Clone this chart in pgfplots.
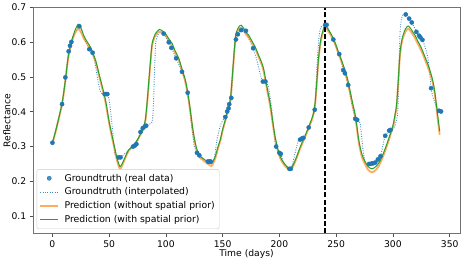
\documentclass[border=0pt]{standalone}
\usepackage{fontspec}
\setmainfont{DejaVu Sans}
\usepackage{pgfplots}
\pgfplotsset{compat=1.18}
\definecolor{cblue}{HTML}{1F77B4}
\definecolor{corange}{HTML}{FF7F0E}
\definecolor{cgreen}{HTML}{2CA02C}
\begin{document}
\begin{tikzpicture}[font=\fontsize{9.2bp}{11bp}\selectfont]
\begin{axis}[
  at={(0,0)}, anchor=south west,
  scale only axis, width=427bp, height=226bp,
  xmin=-17.1, xmax=359.1, ymin=0.05, ymax=0.7,
  xtick={0,50,...,350}, ytick={0.1,0.2,0.3,0.4,0.5,0.6,0.7},
  xtick pos=bottom, ytick pos=left,
  tick align=outside, major tick length=3.2bp,
  axis line style={black!55, line width=0.7bp},
  tick style={black!70, line width=0.7bp},
  /pgf/number format/assume math mode=true,
  yticklabel style={/pgf/number format/.cd, fixed, fixed zerofill, precision=1},
  xlabel={Time (days)}, ylabel={Reflectance},
  xlabel style={at={(axis description cs:0.5,-0.089)}, anchor=center},
  ylabel style={at={(axis description cs:-0.061,0.5)}, anchor=center},
  legend image code/.code={\draw[mark repeat=2,mark phase=2,#1] plot coordinates {(0bp,0bp)(9bp,0bp)(18bp,0bp)};},
  legend style={at={(axis description cs:0.0085,0.02)}, anchor=south west,
    draw=black!20, rounded corners=2bp, fill=white, fill opacity=0.8, text opacity=1,
    inner xsep=2.5bp, inner ysep=2bp, row sep=0bp, column sep=3.5bp,
    nodes={inner ysep=2.65bp, inner xsep=2bp},
    font=\fontsize{9.3bp}{11bp}\selectfont},
  legend cell align=left,
]
\addplot[only marks, mark=*, mark size=2.1bp, color=cblue] coordinates {
(0,0.311)(8.5,0.422)(11.4,0.499)(14.3,0.574)(15.5,0.590)(16.7,0.601)(23.7,0.646)
(32.5,0.580)(35.4,0.570)(46,0.451)(47.2,0.451)(48.4,0.451)(58.3,0.269)(60,0.269)
(71,0.300)(72.7,0.303)(74,0.307)(77.6,0.342)(79.6,0.353)(81.4,0.358)(82.6,0.360)
(98,0.625)(102.5,0.600)(104.8,0.584)(109,0.554)(114.2,0.515)(119.2,0.455)
(127.4,0.282)(129.4,0.275)(137,0.257)(138.2,0.257)(139.4,0.257)
(152.3,0.385)(154,0.401)(155.2,0.410)(155.8,0.422)(157.6,0.440)
(161.7,0.608)(163.4,0.623)(166.3,0.635)(170.5,0.633)(176.8,0.583)
(185.4,0.487)(187.7,0.487)(197.1,0.300)(200,0.282)(201.2,0.279)(208.8,0.236)(210,0.236)
(218.2,0.320)(219.7,0.323)(221.1,0.325)(225.8,0.355)(231.1,0.406)
(240.4,0.650)(241.6,0.650)(247.5,0.608)(252.7,0.566)(256.2,0.520)(257.7,0.511)(260.6,0.477)
(266.8,0.380)(268.5,0.377)(279,0.250)(281,0.251)(282.6,0.252)(284.4,0.254)(286.7,0.263)(289,0.272)
(293.2,0.331)(296.7,0.346)(297.9,0.348)(311.3,0.680)(314.3,0.668)(316.6,0.657)
(320.7,0.630)(323,0.619)(324.2,0.614)(326,0.607)(333.6,0.468)(340.6,0.403)(342.4,0.401)
};
\addlegendentry{Groundtruth (real data)}
\addplot[cblue, opacity=0.85, dash pattern=on 0.9bp off 1.5bp, line width=0.9bp, smooth, tension=0.3] coordinates {
(0,0.311)(8.5,0.422)(11.4,0.499)(14.3,0.574)(15.5,0.59)(16.7,0.601)(20,0.63)(23.7,0.646)
(26,0.635)(29,0.605)(32.5,0.58)(35.4,0.57)(37.5,0.54)(39.5,0.501)(42,0.46)(44,0.452)
(46,0.451)(48.4,0.451)(49.7,0.44)(51,0.41)(52.7,0.358)(54.7,0.285)(56,0.272)(58.3,0.269)
(60,0.269)(64,0.28)(68,0.292)(71,0.30)(72.7,0.303)(74,0.307)(77.6,0.342)(79.6,0.353)
(81.4,0.358)(82.6,0.36)(86,0.365)(88,0.372)(89,0.42)(90,0.52)(91,0.60)(93,0.622)
(95.5,0.628)(98,0.625)(102.5,0.6)(104.8,0.584)(109,0.554)(114.2,0.515)(117,0.49)
(119.2,0.455)(121,0.406)(123,0.35)(125,0.30)(127.4,0.282)(129.4,0.275)(133,0.263)
(137,0.257)(139.4,0.257)(142,0.258)(143.5,0.285)(145,0.32)(147.9,0.36)(150,0.375)
(152.3,0.385)(154,0.401)(155.2,0.41)(155.8,0.422)(157.6,0.44)(158.7,0.50)(160,0.57)
(161.7,0.608)(163.4,0.623)(166.3,0.635)(168.5,0.638)(170.5,0.633)(173,0.61)(176.8,0.583)
(180,0.55)(183,0.51)(185.4,0.487)(187.7,0.487)(190.3,0.472)(193.3,0.406)(196.2,0.31)
(197.1,0.3)(200,0.282)(201.2,0.279)(203.5,0.255)(206,0.242)(208.8,0.236)(210,0.236)
(212,0.255)(213.8,0.282)(216.7,0.318)(218.2,0.32)(219.7,0.323)(221.1,0.325)(223.5,0.338)
(225.8,0.355)(228.5,0.38)(231.1,0.406)(232.3,0.48)(233.4,0.549)(235,0.62)(236.5,0.643)
(238.5,0.649)(240.4,0.65)(241.6,0.65)(244.5,0.628)(247.5,0.608)(250,0.585)(252.7,0.566)
(254.5,0.545)(256.2,0.52)(257.7,0.511)(259,0.495)(260.6,0.477)(263.6,0.425)(266.8,0.38)
(268.5,0.377)(270.5,0.372)(271.5,0.36)(273.3,0.30)(275.3,0.255)(277,0.25)(279,0.25)
(281,0.251)(282.6,0.252)(284.4,0.254)(286.7,0.263)(289,0.272)(291,0.30)(293.2,0.331)
(296.7,0.346)(297.9,0.348)(300,0.352)(301.7,0.358)(304,0.39)(304.8,0.45)(305.5,0.55)
(306.3,0.63)(307.5,0.668)(309,0.68)(311.3,0.68)(314.3,0.668)(316.6,0.657)(320.7,0.63)
(323,0.619)(324.2,0.614)(326,0.607)(328,0.59)(330.5,0.56)(332.2,0.52)(333.6,0.468)
(335.5,0.44)(338,0.418)(340.6,0.403)(342.4,0.401)
};
\addlegendentry{Groundtruth (interpolated)}
\addplot[corange, opacity=0.65, line width=1.8bp, smooth, tension=0.5] coordinates {
(0,0.308)(4,0.358)(8.5,0.423)(11.4,0.487)(14,0.556)(17,0.6)(20,0.627)(22.8,0.638)(25,0.63)
(27.8,0.61)(30.5,0.597)(33.7,0.58)(38,0.544)(41,0.505)(44,0.466)(47,0.424)(49.7,0.372)
(52,0.334)(54,0.304)(56,0.272)(57.7,0.251)(59.4,0.236)(61,0.242)(64.4,0.268)(67,0.287)
(70.3,0.298)(74,0.313)(77.6,0.334)(80,0.35)(82,0.376)(83.5,0.425)(85,0.485)(86.5,0.545)
(87.9,0.592)(90.8,0.62)(94.3,0.631)(96,0.63)(99.6,0.62)(102.5,0.605)(105.4,0.592)
(108,0.571)(111.3,0.549)(114,0.52)(117.1,0.486)(119.5,0.444)(121.5,0.4)(123.5,0.349)
(125.9,0.305)(128,0.28)(130.3,0.267)(133,0.26)(136.2,0.252)(140,0.244)(141.5,0.251)
(143.5,0.266)(145.5,0.29)(147.9,0.316)(150,0.346)(152.3,0.373)(154.5,0.401)(156.7,0.43)
(158.2,0.485)(159.6,0.544)(160.7,0.59)(161.7,0.619)(164,0.636)(166.3,0.642)(168.5,0.634)
(170.5,0.622)(172.8,0.615)(175.5,0.6)(178.6,0.582)(182,0.555)(184,0.539)(186,0.518)
(188,0.483)(190,0.448)(191.8,0.418)(194,0.368)(196.2,0.322)(198.5,0.289)(200.6,0.267)
(203.5,0.25)(206.5,0.239)(208.5,0.235)(210,0.233)(212.5,0.246)(215.3,0.268)(218,0.292)
(221.1,0.316)(224,0.338)(227,0.363)(229.5,0.386)(231.4,0.42)(233,0.485)(234.3,0.544)
(235.5,0.58)(236.6,0.606)(238.5,0.63)(240.2,0.644)(243,0.632)(246,0.616)(249,0.595)
(251.9,0.568)(254.8,0.543)(257.7,0.514)(260,0.488)(262.1,0.456)(264.5,0.418)(266.5,0.389)
(268,0.358)(269.4,0.323)(271,0.293)(273,0.267)(275.3,0.25)(278,0.234)(281.2,0.226)
(284,0.23)(286.5,0.239)(288.5,0.25)(291.5,0.273)(294.4,0.299)(297.5,0.33)(300.2,0.358)
(302,0.39)(303.2,0.415)(304.5,0.475)(306.1,0.557)(307.5,0.594)(309,0.614)(311,0.63)
(313.4,0.639)(315.5,0.632)(317.5,0.622)(319.3,0.613)(322,0.595)(325.1,0.575)(328,0.552)
(331,0.527)(333.2,0.506)(335.3,0.48)(337,0.448)(338.3,0.413)(339.8,0.37)(341.2,0.334)
};
\addlegendentry{Prediction (without spatial prior)}
\addplot[cgreen, line width=1bp, smooth, tension=0.5] coordinates {
(0,0.31)(4,0.36)(8.5,0.425)(11.4,0.49)(14,0.56)(17,0.605)(20,0.635)(22.8,0.652)(25,0.642)
(27.8,0.618)(30.5,0.602)(33.7,0.585)(38,0.549)(41,0.51)(44,0.472)(47,0.43)(49.7,0.377)
(52,0.34)(54,0.31)(56,0.28)(57.7,0.258)(59.4,0.243)(61,0.248)(64.4,0.272)(67,0.29)
(70.3,0.30)(74,0.315)(77.6,0.336)(80,0.352)(82,0.38)(83.5,0.43)(85,0.49)(86.5,0.55)
(87.9,0.597)(90.8,0.625)(94.3,0.637)(96,0.635)(99.6,0.625)(102.5,0.61)(105.4,0.597)
(108,0.576)(111.3,0.554)(114,0.525)(117.1,0.492)(119.5,0.45)(121.5,0.406)(123.5,0.355)
(125.9,0.31)(128,0.285)(130.3,0.272)(133,0.265)(136.2,0.258)(140,0.251)(141.5,0.258)
(143.5,0.272)(145.5,0.295)(147.9,0.32)(150,0.35)(152.3,0.377)(154.5,0.405)(156.7,0.434)
(158.2,0.49)(159.6,0.549)(160.7,0.595)(161.7,0.625)(164,0.643)(166.3,0.649)(168.5,0.64)
(170.5,0.628)(172.8,0.621)(175.5,0.605)(178.6,0.587)(182,0.56)(184,0.545)(186,0.525)
(188,0.49)(190,0.455)(191.8,0.425)(194,0.375)(196.2,0.329)(198.5,0.295)(200.6,0.272)
(203.5,0.255)(206.5,0.243)(208.5,0.238)(210,0.236)(212.5,0.25)(215.3,0.272)(218,0.296)
(221.1,0.32)(224,0.342)(227,0.367)(229.5,0.39)(231.4,0.425)(233,0.49)(234.3,0.549)
(235.5,0.585)(236.6,0.611)(238.5,0.635)(240.2,0.649)(243,0.637)(246,0.621)(249,0.6)
(251.9,0.573)(254.8,0.548)(257.7,0.52)(260,0.495)(262.1,0.463)(264.5,0.425)(266.5,0.396)
(268,0.365)(269.4,0.33)(271,0.3)(273,0.275)(275.3,0.258)(278,0.243)(281.2,0.236)
(284,0.24)(286.5,0.248)(288.5,0.258)(291.5,0.28)(294.4,0.305)(297.5,0.335)(300.2,0.363)
(302,0.395)(303.2,0.42)(304.5,0.48)(306.1,0.563)(307.5,0.6)(309,0.621)(311,0.638)
(313.4,0.647)(315.5,0.64)(317.5,0.63)(319.3,0.621)(322,0.603)(325.1,0.583)(328,0.56)
(331,0.535)(333.2,0.513)(335.3,0.487)(337,0.455)(338.3,0.42)(339.8,0.38)(341.2,0.344)
};
\addlegendentry{Prediction (with spatial prior)}
\addplot[black, line width=1.4bp, dash pattern=on 5bp off 2.2bp, forget plot] coordinates {(240,0.05)(240,0.7)};
\end{axis}
\pgfresetboundingbox
\path[use as bounding box] (-33bp,-27.5bp) rectangle (431bp,233.5bp);
\end{tikzpicture}
\end{document}
